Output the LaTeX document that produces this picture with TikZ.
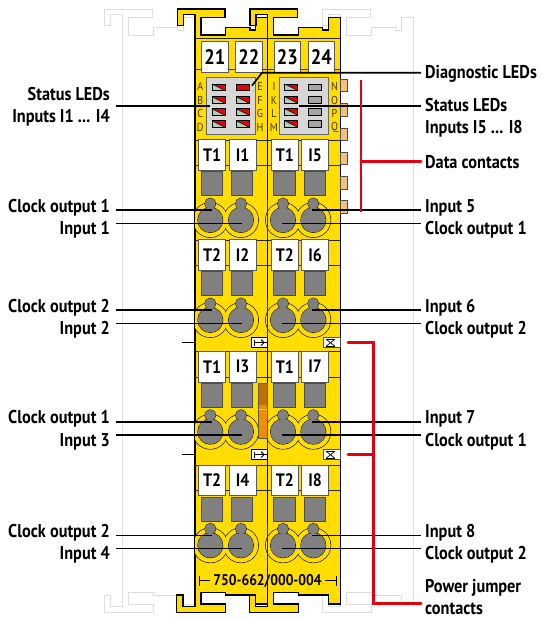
\documentclass[tikz,border=0pt]{standalone}
\usepackage{fontspec}
\setmainfont[FakeStretch=0.88]{PT Sans}
\definecolor{modyellow}{RGB}{255,221,0}
\definecolor{ledgreen}{RGB}{170,210,180}
\definecolor{ledred}{RGB}{227,0,15}
\definecolor{ledgray}{RGB}{165,165,165}
\definecolor{ledpanel}{RGB}{215,215,215}
\definecolor{padgray}{RGB}{128,128,128}
\definecolor{contact}{RGB}{245,190,130}
\definecolor{railgray}{RGB}{222,222,222}
\definecolor{jumper}{RGB}{240,140,0}
\tikzset{
  lab/.style={font=\bfseries\fontsize{18.5}{22}\selectfont,inner sep=0pt},
  labr/.style={lab,anchor=east,align=right},
  labl/.style={lab,anchor=west,align=left},
  lead/.style={draw=black,line width=1.6pt},
  redlead/.style={draw=ledred,line width=3pt},
  thinline/.style={draw=black!85,line width=0.8pt},
  tagbox/.style={draw=black!65,fill=white,line width=0.8pt,anchor=north west,minimum width=26.7pt,minimum height=30.5pt,inner sep=0pt,font=\bfseries\fontsize{18}{18}\selectfont},
  numbox/.style={tagbox,font=\bfseries\fontsize{21}{21}\selectfont},
  letter/.style={inner sep=0pt,font=\fontsize{11.5}{11.5}\selectfont,text=black!75!modyellow},
  pad/.style={draw=black!70,fill=padgray,line width=0.8pt},
  led/.style={draw=black,line width=0.9pt}
}
\newcommand{\modshape}[1]{\draw[#1] (177.3,9) -- (225,9) -- (225,17.3) -- (201,17.3) -- (201,35) -- (225.7,35) -- (225.7,27.3) -- (250,27.3) -- (250,30) -- (255.7,30) -- (255.7,17.3) -- (267.7,17.3) -- (267.7,604) -- (255.7,604) -- (255.7,595) -- (225.7,595) -- (225.7,592.7) -- (201,592.7) -- (201,604) -- (225.7,604) -- (225.7,612.7) -- (176.7,612.7) -- (176.7,595) -- (183,595) -- (183,606.7) -- (195,606.7) -- (195,14.3) -- (183.3,14.3) -- (183.3,25.7) -- (177.3,25.7) -- cycle;}
\begin{document}
\begin{tikzpicture}[x=1pt,y=-1pt]
  \useasboundingbox (0,0) rectangle (543,619);
  % rails of the neighbouring modules
  \begin{scope}[xshift=-72.7pt]
    \modshape{draw=railgray,line width=1pt}
  \end{scope}
  \begin{scope}[xshift=145.4pt]
    \modshape{draw=railgray,line width=1pt}
  \end{scope}
  % the two module bodies
  \foreach \sh in {0,72.7} {
    \begin{scope}[xshift=\sh pt]
      \modshape{draw=black,fill=modyellow,line width=1.1pt}
      \draw[thinline] (195,38.3) -- (267.7,38.3);
      \draw[thinline] (195,69.5) -- (267.7,69.5);
      \foreach \ky in {220,320,431.7,545.3} {
        \draw[thinline] (195,\ky-80) -- (267.7,\ky-80);
        \draw[thinline] (195,\ky-54.5) -- (267.7,\ky-54.5);
      }
      \fill[ledpanel] (206.3,77.3) rectangle (255.7,134.3);
      \draw[thinline,draw=black!60] (206.3,77.3) rectangle (255.7,134.3);
    \end{scope}
  }
  % top markers
  \node[numbox] (tag21) at (201,41) {21};
  \node[numbox] (tag22) at (235,41) {22};
  \node[numbox] (tag23) at (273.7,41) {23};
  \node[numbox] (tag24) at (307.7,41) {24};
  % LEDs
  \foreach \ledy in {87.3,100,112,124} {
    \foreach \ledx in {218.5,242.7,291.2} {
      \fill[ledgreen] (\ledx-6.5,\ledy-3.3) rectangle (\ledx+6.5,\ledy+3.3);
      \fill[ledred] (\ledx-6.5,\ledy-3.3) -- (\ledx+6.5,\ledy-3.3) -- (\ledx+6.5,\ledy+3.3) -- cycle;
      \draw[led] (\ledx-6.5,\ledy-3.3) rectangle (\ledx+6.5,\ledy+3.3);
      \draw[line width=0.5pt] (\ledx-6.5,\ledy-3.3) -- (\ledx+6.5,\ledy+3.3);
    }
    \draw[led,fill=ledgray] (308.9,\ledy-3.3) rectangle (321.9,\ledy+3.3);
  }
  \draw[led,fill=ledred] (236.2,84) rectangle (249.2,90.6);
  % LED letters
  \foreach \lta/\ltb/\ltc/\ltd/\lty in {A/E/I/N/86.7,B/F/K/O/100,C/G/L/P/113.3,D/H/M/Q/127.3} {
    \node[letter] (let\lta) at (200.3,\lty) {\lta};
    \node[letter] (let\ltb) at (260,\lty) {\ltb};
    \node[letter] (let\ltc) at (274,\lty) {\ltc};
    \node[letter] (let\ltd) at (334.5,\lty) {\ltd};
  }
  % data contacts
  \foreach \cy in {79.3,103.6,127.9,152.2,176.5,200.8} {
    \draw[draw=black!70,fill=contact,line width=0.8pt] (340,\cy) rectangle (347.3,\cy+12.4);
  }
  % terminals, one row at a time
  \foreach \rownum/\ky/\tl/\nl/\nr in {1/220/1/1/5,2/320/2/2/6,3/431.7/1/3/7,4/545.3/2/4/8} {
    \node[tagbox] (tagTa\rownum) at (198.3,\ky-80.7) {T\tl};
    \node[tagbox] (tagIa\rownum) at (228.9,\ky-80.7) {I\nl};
    \node[tagbox] (tagTb\rownum) at (271,\ky-80.7) {T\tl};
    \node[tagbox] (tagIb\rownum) at (301.4,\ky-80.7) {I\nr};
    \foreach \px in {212,242,284.2,314.8} {
      \draw[pad] (\px-10.7,\ky-48.3) rectangle (\px+10.7,\ky-24.3);
    }
    \begin{scope}
      \clip (195,\ky-30) rectangle (340,\ky+30);
      \foreach \hx in {210.3,241,283,313.3} {
        \draw[thinline] (\hx,\ky) circle (17.5);
      }
      \foreach \hx in {210.3,241,283,313.3} {
        \fill[modyellow] (\hx,\ky) circle (17.1);
      }
      \draw[thinline,line width=1.1pt] (267.7,\ky-20) -- (267.7,\ky+20);
      \foreach \hx in {210.3,241,283,313.3} {
        \draw[thinline] (\hx,\ky) circle (12.6);
        \draw[thinline] (\hx,\ky-16.4) circle (5.6);
        \fill[padgray] (\hx,\ky) circle (12.3);
        \fill[padgray] (\hx,\ky-16.4) circle (5.3);
      }
    \end{scope}
  }
  % orange jumper
  \fill[jumper] (258.7,383.3) rectangle (267.3,438.3);
  \fill[jumper!80!black] (258.7,383.3) rectangle (267.3,405);
  \draw[black!65,line width=0.8pt] (258.7,383.3) rectangle (267.3,438.3);
  \draw[white!70!jumper,line width=1pt] (258.7,409) -- (267.3,409);
  % power jumper symbols
  \foreach \jy in {342.7,454.7} {
    \fill[white] (251,\jy-5) rectangle (267.3,\jy+5);
    \draw[line width=0.6pt] (251,\jy-5) -- (251,\jy+5) -- (267.3,\jy+5);
    \draw[line width=0.6pt] (251,\jy-5) -- (267.3,\jy-5);
    \draw[line width=1pt] (254,\jy-3) -- (254,\jy+3);
    \draw[line width=1pt] (254,\jy) -- (267,\jy);
    \draw[line width=1pt] (261,\jy-3) -- (264,\jy);
    \draw[line width=1pt] (261,\jy+3) -- (264,\jy);
    \draw[black!70,fill=white,line width=0.6pt] (323.7,\jy-5) rectangle (340.3,\jy+5);
    \draw[line width=0.7pt] (326,\jy-3.5) -- (335,\jy+3.5);
    \draw[line width=0.7pt] (326,\jy+3.5) -- (335,\jy-3.5);
    \draw[line width=0.7pt] (326,\jy-3.5) -- (335,\jy-3.5);
    \draw[line width=0.7pt] (326,\jy+3.5) -- (335,\jy+3.5);
    \draw[line width=1.8pt] (181.7,\jy-0.3) -- (194.3,\jy-0.3);
  }
  % order number
  \node[inner sep=0pt,font=\bfseries\fontsize{15.5}{15.5}\selectfont] (ordernum) at (267.5,580.8) {750-662/000-004};
  \coordinate (dimA) at (199,580.8);
  \coordinate (dimB) at (336,580.8);
  \draw[line width=1pt] ([yshift=-5pt]dimA) -- ([yshift=5pt]dimA);
  \draw[line width=1pt] (dimA) -- ++(11,0);
  \draw[line width=1pt] ([yshift=-5pt]dimB) -- ([yshift=5pt]dimB);
  \draw[line width=1pt] (dimB) -- ++(-11,0);
  % leaders and labels
  \coordinate (leftstart) at (116,0);
  \coordinate (rightend) at (421,0);
  \foreach \rownum/\ky/\lca/\lia/\lib/\lcb in {1/220/1/1/5/1,2/320/2/2/6/2,3/431.7/1/3/7/1,4/545.3/2/4/8/2} {
    \node[labr] (clkL\rownum) at (110,\ky-12.5) {Clock output \lca};
    \node[labr] (inL\rownum) at (110,\ky+9.7) {Input \lia};
    \node[labl] (inR\rownum) at (425,\ky-12.5) {Input \lib};
    \node[labl] (clkR\rownum) at (425,\ky+9.7) {Clock output \lcb};
    \coordinate (clkLend\rownum) at (211.7,\ky-10);
    \coordinate (inLend\rownum) at (241.7,\ky+3.3);
    \coordinate (inRend\rownum) at (312.3,\ky-10);
    \coordinate (clkRend\rownum) at (282.3,\ky+3.3);
    \draw[lead] (leftstart |- clkLend\rownum) -- (clkLend\rownum);
    \draw[lead] (leftstart |- inLend\rownum) -- (inLend\rownum);
    \draw[lead] (inRend\rownum) -- (rightend |- inRend\rownum);
    \draw[lead] (clkRend\rownum) -- (rightend |- clkRend\rownum);
  }
  \node[labr] (statusL) at (110,107) {Status LEDs\\Inputs I1 ... I4};
  \node[labl] (statusR) at (425,118) {Status LEDs\\Inputs I5 ... I8};
  \node[labl] (diagLab) at (425,74) {Diagnostic LEDs};
  \node[labl] (dataLab) at (425,162.5) {Data contacts};
  \node[labl] (powerLab) at (425,597) {Power jumper\\contacts};
  \coordinate (statLend) at (210,105.7);
  \coordinate (statRend) at (298.7,105.7);
  \draw[lead] (leftstart |- statLend) -- (statLend);
  \draw[lead] (statRend) -- (rightend |- statRend);
  \coordinate (diagLed) at (252,85.7);
  \coordinate (diagKnee) at (262,72.7);
  \draw[lead] (diagLed) -- (diagKnee) -- (rightend |- diagKnee);
  % red leaders
  \coordinate (dataTop) at (361,80);
  \coordinate (dataBot) at (361,211.7);
  \coordinate (dataMid) at (361,161);
  \draw[draw=ledred,line width=1.5pt] (dataTop) -- (dataBot);
  \draw[redlead,line cap=round] (dataMid) -- (rightend |- dataMid);
  \coordinate (pjStubA) at (348,342.5);
  \coordinate (pjStubB) at (348,454.5);
  \coordinate (pjTop) at (373,342.5);
  \coordinate (pjMid) at (373,454.5);
  \coordinate (pjBot) at (373,603.3);
  \draw[redlead,line cap=round] (pjStubA) -- (pjTop) -- (pjBot) -- (rightend |- pjBot);
  \draw[redlead,line cap=round] (pjStubB) -- (pjMid);
\end{tikzpicture}
\end{document}
